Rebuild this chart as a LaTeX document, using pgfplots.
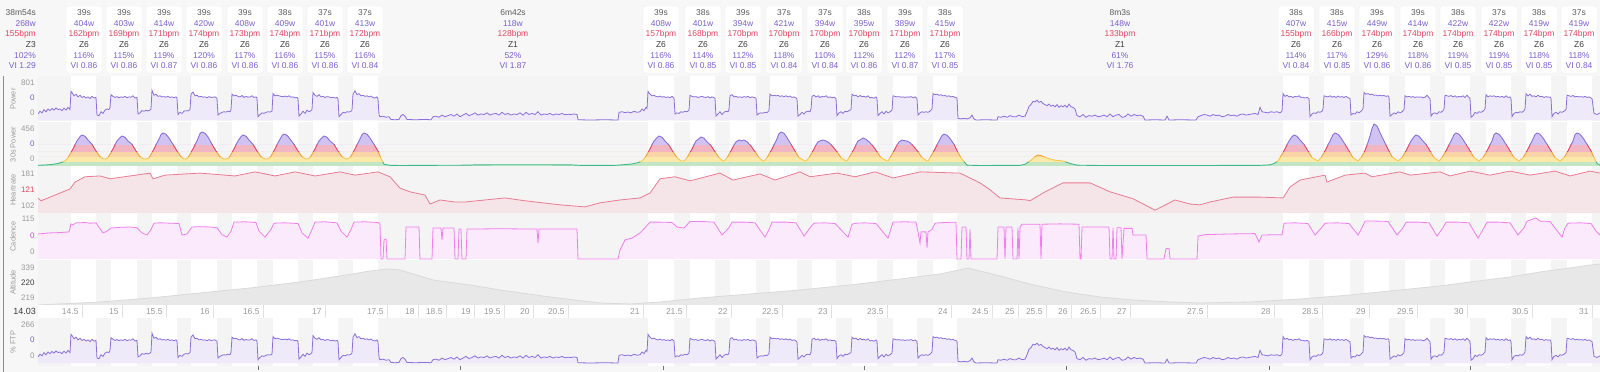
\documentclass[border=0pt]{standalone}
\usepackage{pgfplots}
\pgfplotsset{compat=1.18}
\usepackage{pgfplotstable}
\usepackage{fontspec}
\setmainfont{Liberation Sans}

\definecolor{bgc}{HTML}{F7F7F7}
\definecolor{panelc}{HTML}{F4F4F4}
\definecolor{pwline}{HTML}{8B6FDE}
\definecolor{pwfill}{HTML}{EEEAF9}
\definecolor{hrline}{HTML}{EB7A92}
\definecolor{hrfill}{HTML}{F5E5E9}
\definecolor{cadline}{HTML}{F27CF0}
\definecolor{cadfill}{HTML}{FBEAFB}
\definecolor{altline}{HTML}{DADADA}
\definecolor{altfill}{HTML}{E8E8E8}
\definecolor{zgl}{HTML}{3DB88A}\definecolor{zgf}{HTML}{C2E6C4}
\definecolor{zyl}{HTML}{F4C84A}\definecolor{zyf}{HTML}{FBE9AA}
\definecolor{zol}{HTML}{F5A030}\definecolor{zof}{HTML}{F9D4A6}
\definecolor{zrl}{HTML}{E84060}\definecolor{zrf}{HTML}{F2B6C3}
\definecolor{zpl}{HTML}{8B6FDE}\definecolor{zpf}{HTML}{D0C3F1}
\definecolor{tpurple}{HTML}{7B60D6}
\definecolor{tred}{HTML}{E8455F}
\definecolor{tgray}{HTML}{5C5C5C}
\definecolor{tdark}{HTML}{3C3C3C}
\definecolor{axgray}{HTML}{9A9A9A}
\definecolor{tmag}{HTML}{E040E0}
\definecolor{gridc}{HTML}{E2E2E2}

\newcommand{\hfont}{\fontsize{8.5}{10.7}\selectfont}
\newcommand{\ibox}[6]{%
  \draw[draw=black!7, fill=white, rounded corners=2bp] ({#1bp-18bp},366bp) rectangle ({#1bp+18bp},299bp);
  \node[align=center, font=\hfont, inner sep=0pt] at (#1bp,332.8bp)
   {\textcolor{tgray}{#2}\\\textcolor{tpurple}{#3w}\\\textcolor{tred}{#4bpm}\\\textcolor{tdark}{Z6}\\\textcolor{tpurple}{#5\%}\\\textcolor{tpurple}{VI #6}};}

\pgfplotsset{
  panel/.style={scale only axis, width=1562bp, xmin=38, xmax=1600, anchor=south west,
    axis line style={draw=none}, xtick=\empty, ytick=\empty, major tick length=0pt,
    tick style={draw=none},
    yticklabel style={font=\fontsize{8}{8}\selectfont},
    every axis y label/.style={at={(axis description cs:0,0.5)}, rotate=90, anchor=center,
      yshift=25bp, font=\fontsize{7.5}{7.5}\selectfont, text=axgray}},
}

\pgfplotstableread[row sep=\\]{
x y\\
38 110\\ 40 160\\ 42 130\\ 44 190\\ 46 150\\ 48 200\\ 50 170\\ 52 210\\ 54 180\\ 56 220\\ 58 190\\ 60 200\\ 62 170\\ 64 215\\ 66 180\\ 68 230\\ 70 190\\
71 520\\ 72 500\\ 74 440\\ 76 470\\ 78 420\\ 80 450\\ 82 410\\ 84 430\\ 86 400\\ 88 420\\ 90 390\\ 92 430\\ 94 400\\ 96 410\\
97 90\\ 99 80\\ 101 150\\ 103 120\\ 105 180\\ 107 200\\ 109 190\\ 110 230\\
111 460\\ 113 430\\ 115 410\\ 117 425\\ 119 405\\ 121 420\\ 123 410\\ 125 430\\ 127 405\\ 129 420\\ 131 415\\ 133 440\\ 135 400\\ 137 410\\
138 110\\ 140 130\\ 142 170\\ 144 160\\ 146 175\\ 148 165\\ 150 180\\ 151 200\\
152 540\\ 154 450\\ 156 470\\ 158 430\\ 160 440\\ 162 420\\ 164 425\\ 166 415\\ 168 430\\ 170 410\\ 172 420\\ 174 405\\ 176 420\\ 177 400\\
178 100\\ 180 140\\ 182 120\\ 184 160\\ 186 170\\ 188 165\\ 190 190\\
191 470\\ 193 510\\ 195 440\\ 197 450\\ 199 420\\ 201 430\\ 203 415\\ 205 420\\ 207 405\\ 209 425\\ 211 410\\ 213 415\\ 215 420\\ 217 395\\
218 90\\ 220 120\\ 222 140\\ 224 150\\ 226 145\\ 228 160\\ 230 150\\ 231 190\\
232 470\\ 234 440\\ 236 450\\ 238 430\\ 240 420\\ 242 445\\ 244 410\\ 246 430\\ 248 415\\ 250 420\\ 252 440\\ 254 410\\ 256 420\\ 257 400\\
258 60\\ 260 100\\ 262 130\\ 264 120\\ 266 140\\ 268 150\\ 270 145\\ 272 160\\
273 480\\ 275 440\\ 277 450\\ 279 440\\ 281 430\\ 283 425\\ 285 435\\ 287 420\\ 289 440\\ 291 415\\ 293 420\\ 295 405\\ 297 410\\ 298 390\\
299 70\\ 301 110\\ 303 160\\ 305 120\\ 307 180\\ 309 150\\ 311 170\\ 312 190\\
313 500\\ 315 450\\ 317 430\\ 319 460\\ 321 420\\ 323 430\\ 325 410\\ 327 425\\ 329 420\\ 331 405\\ 333 415\\ 335 400\\ 337 410\\ 338 390\\
339 60\\ 341 100\\ 343 140\\ 345 130\\ 347 150\\ 349 145\\ 351 160\\ 352 180\\
353 470\\ 355 530\\ 357 460\\ 359 480\\ 361 440\\ 363 450\\ 365 430\\ 367 440\\ 369 420\\ 371 435\\ 373 410\\ 375 400\\ 377 420\\ 378 380\\
379 100\\ 380 60\\ 383 70\\ 386 50\\ 389 60\\ 391 10\\ 395 5\\ 399 10\\ 401 80\\ 403 100\\ 405 70\\ 407 10\\ 415 5\\ 425 10\\ 431 5\\
433 60\\ 436 70\\ 439 50\\ 442 90\\ 445 60\\ 448 80\\ 451 100\\ 454 70\\ 457 110\\ 460 60\\ 463 90\\ 466 120\\ 469 80\\ 472 100\\ 475 130\\ 478 90\\
481 110\\ 484 100\\ 487 130\\ 490 90\\ 493 110\\ 496 120\\ 499 90\\ 502 140\\ 505 100\\ 508 120\\ 511 90\\ 514 110\\ 517 100\\ 520 130\\ 523 90\\
526 140\\ 529 100\\ 532 120\\ 535 100\\ 538 150\\ 541 90\\ 544 110\\ 547 100\\ 550 120\\ 553 90\\ 556 110\\ 559 100\\ 562 120\\ 565 95\\ 568 105\\
571 100\\ 574 110\\ 577 100\\ 578 5\\ 590 0\\ 605 5\\ 618 0\\ 619 140\\ 622 150\\ 625 135\\ 628 145\\ 631 130\\ 634 160\\ 637 140\\ 640 150\\
642 200\\ 644 170\\ 646 230\\ 647 210\\
648 520\\ 650 470\\ 652 440\\ 654 450\\ 656 430\\ 658 420\\ 660 435\\ 662 415\\ 664 425\\ 666 410\\ 668 420\\ 670 405\\ 672 430\\ 674 400\\
675 110\\ 677 130\\ 679 120\\ 681 150\\ 683 140\\ 685 160\\ 687 150\\ 689 180\\
690 450\\ 692 430\\ 694 420\\ 696 425\\ 698 410\\ 700 420\\ 702 430\\ 704 415\\ 706 410\\ 708 425\\ 710 400\\ 712 420\\ 714 405\\ 715 390\\
716 70\\ 718 110\\ 720 150\\ 722 100\\ 724 140\\ 726 160\\ 728 150\\ 729 190\\
730 440\\ 732 460\\ 734 420\\ 736 430\\ 738 415\\ 740 420\\ 742 410\\ 744 425\\ 746 415\\ 748 430\\ 750 405\\ 752 420\\ 754 410\\ 756 400\\
757 90\\ 759 120\\ 761 130\\ 763 125\\ 765 140\\ 767 135\\ 769 170\\
770 470\\ 772 440\\ 774 450\\ 776 440\\ 778 445\\ 780 430\\ 782 440\\ 784 425\\ 786 440\\ 788 420\\ 790 435\\ 792 410\\ 794 420\\ 796 400\\ 797 380\\
798 70\\ 800 100\\ 802 140\\ 804 110\\ 806 150\\ 808 160\\ 810 150\\ 811 200\\
812 430\\ 814 450\\ 816 420\\ 818 440\\ 820 410\\ 822 430\\ 824 420\\ 826 440\\ 828 410\\ 830 420\\ 832 405\\ 834 415\\ 836 390\\
837 80\\ 839 130\\ 841 150\\ 843 120\\ 845 160\\ 847 150\\ 849 170\\ 851 190\\
852 470\\ 854 440\\ 856 450\\ 858 420\\ 860 445\\ 862 425\\ 864 430\\ 866 415\\ 868 440\\ 870 400\\ 872 410\\ 874 395\\ 876 420\\ 877 390\\
878 80\\ 880 120\\ 882 150\\ 884 110\\ 886 160\\ 888 130\\ 890 150\\ 892 180\\
893 440\\ 895 430\\ 897 420\\ 899 425\\ 901 415\\ 903 420\\ 905 410\\ 907 420\\ 909 415\\ 911 425\\ 913 405\\ 915 420\\ 917 390\\
918 90\\ 920 130\\ 922 150\\ 924 140\\ 926 150\\ 928 140\\ 930 160\\ 932 200\\
933 480\\ 935 460\\ 937 470\\ 939 450\\ 941 460\\ 943 440\\ 945 445\\ 947 430\\ 949 440\\ 951 420\\ 953 430\\ 955 410\\ 957 400\\
958 30\\ 961 20\\ 964 30\\ 967 20\\ 970 40\\ 972 90\\ 974 20\\ 976 0\\ 985 5\\ 997 0\\ 998 60\\ 1001 50\\ 1004 70\\ 1007 50\\ 1010 80\\ 1013 60\\
1016 60\\ 1019 90\\ 1022 60\\ 1025 70\\ 1027 150\\ 1029 250\\ 1031 280\\ 1033 340\\ 1035 330\\ 1037 360\\ 1039 320\\ 1041 340\\ 1043 300\\ 1045 280\\
1047 260\\ 1049 290\\ 1051 250\\ 1053 270\\ 1055 240\\ 1057 280\\ 1059 230\\ 1061 260\\ 1063 240\\ 1065 270\\ 1067 230\\ 1069 290\\ 1071 240\\
1073 230\\ 1075 200\\ 1077 80\\ 1080 60\\ 1083 100\\ 1086 50\\ 1089 80\\ 1092 70\\ 1095 90\\ 1098 60\\ 1101 70\\ 1104 90\\ 1107 60\\ 1110 110\\
1113 60\\ 1116 90\\ 1119 100\\ 1122 50\\ 1125 60\\ 1128 110\\ 1131 70\\ 1134 100\\ 1137 80\\ 1140 90\\ 1143 70\\ 1145 0\\ 1155 5\\ 1165 0\\
1167 70\\ 1169 0\\ 1180 5\\ 1196 0\\ 1198 60\\ 1201 80\\ 1204 100\\ 1207 90\\ 1210 70\\ 1213 100\\ 1216 80\\ 1219 90\\ 1222 60\\ 1225 70\\
1228 100\\ 1231 80\\ 1234 90\\ 1237 70\\ 1240 100\\ 1243 110\\ 1246 90\\ 1249 100\\ 1252 110\\ 1255 120\\ 1258 100\\ 1260 230\\ 1262 150\\
1265 140\\ 1268 130\\ 1271 150\\ 1274 140\\ 1277 150\\ 1280 130\\ 1282 160\\
1283 480\\ 1285 430\\ 1287 450\\ 1289 420\\ 1291 430\\ 1293 410\\ 1295 430\\ 1297 420\\ 1299 440\\ 1301 410\\ 1303 415\\ 1305 400\\ 1307 410\\ 1309 390\\
1310 60\\ 1312 110\\ 1314 130\\ 1316 120\\ 1318 150\\ 1320 140\\ 1322 160\\ 1323 200\\
1324 440\\ 1326 430\\ 1328 420\\ 1330 440\\ 1332 415\\ 1334 430\\ 1336 410\\ 1338 435\\ 1340 415\\ 1342 425\\ 1344 410\\ 1346 430\\ 1348 405\\ 1350 390\\
1351 90\\ 1353 120\\ 1355 110\\ 1357 150\\ 1359 130\\ 1361 160\\ 1363 200\\
1364 500\\ 1366 470\\ 1368 480\\ 1370 460\\ 1372 470\\ 1374 450\\ 1376 455\\ 1378 440\\ 1380 450\\ 1382 440\\ 1384 445\\ 1386 430\\ 1388 440\\ 1389 420\\
1390 70\\ 1392 100\\ 1394 130\\ 1396 110\\ 1398 150\\ 1400 130\\ 1402 150\\ 1404 190\\
1405 440\\ 1407 420\\ 1409 430\\ 1411 415\\ 1413 425\\ 1415 410\\ 1417 420\\ 1419 415\\ 1421 420\\ 1423 405\\ 1425 415\\ 1427 450\\ 1429 405\\ 1430 390\\
1431 70\\ 1433 120\\ 1435 130\\ 1437 110\\ 1439 150\\ 1441 140\\ 1443 170\\ 1444 200\\
1445 450\\ 1447 440\\ 1449 430\\ 1451 445\\ 1453 420\\ 1455 440\\ 1457 415\\ 1459 430\\ 1461 420\\ 1463 440\\ 1465 410\\ 1467 450\\ 1469 410\\ 1470 390\\
1471 50\\ 1473 80\\ 1475 140\\ 1477 120\\ 1479 150\\ 1481 140\\ 1483 160\\ 1485 200\\
1486 460\\ 1488 420\\ 1490 440\\ 1492 430\\ 1494 440\\ 1496 420\\ 1498 430\\ 1500 415\\ 1502 430\\ 1504 410\\ 1506 440\\ 1508 410\\ 1510 420\\ 1511 390\\
1512 60\\ 1514 120\\ 1516 140\\ 1518 130\\ 1520 150\\ 1522 140\\ 1524 170\\ 1525 200\\
1526 480\\ 1528 440\\ 1530 470\\ 1532 430\\ 1534 440\\ 1536 420\\ 1538 450\\ 1540 425\\ 1542 430\\ 1544 410\\ 1546 425\\ 1548 415\\ 1550 420\\ 1551 395\\
1552 60\\ 1554 120\\ 1556 140\\ 1558 110\\ 1560 150\\ 1562 140\\ 1564 160\\ 1566 190\\
1567 450\\ 1569 440\\ 1571 430\\ 1573 445\\ 1575 420\\ 1577 430\\ 1579 420\\ 1581 425\\ 1583 415\\ 1585 430\\ 1587 410\\ 1589 420\\ 1591 400\\ 1592 390\\
1594 120\\ 1597 100\\ 1600 130\\
}\powtab

\pgfplotstableread[row sep=\\]{
x y\\
38 8\\ 45 12\\ 52 18\\ 58 30\\ 62 45\\
65 60\\ 68 100\\ 71 160\\ 74 230\\ 77 300\\ 80 352\\ 82 372\\ 85 357\\ 88 312\\ 92 260\\ 96 180\\ 100 110\\ 104 84\\
105 84\\ 108 100\\ 111 160\\ 114 230\\ 117 300\\ 120 340\\ 122 360\\ 125 345\\ 128 300\\ 132 260\\ 136 180\\ 140 110\\ 144 84\\
146 84\\ 149 100\\ 152 160\\ 155 230\\ 158 300\\ 161 376\\ 163 396\\ 166 381\\ 169 336\\ 173 260\\ 177 180\\ 181 110\\ 184 84\\
185 84\\ 188 100\\ 191 160\\ 194 230\\ 197 300\\ 200 388\\ 202 408\\ 205 393\\ 208 348\\ 212 260\\ 216 180\\ 220 110\\ 224 84\\
226 84\\ 229 100\\ 232 160\\ 235 230\\ 238 300\\ 241 352\\ 243 372\\ 246 357\\ 249 312\\ 253 260\\ 257 180\\ 261 110\\ 265 84\\
267 84\\ 270 100\\ 273 160\\ 276 230\\ 279 300\\ 282 364\\ 284 384\\ 287 369\\ 290 324\\ 294 260\\ 298 180\\ 302 110\\ 306 84\\
307 84\\ 310 100\\ 313 160\\ 316 230\\ 319 300\\ 322 340\\ 324 360\\ 327 345\\ 330 300\\ 334 260\\ 338 180\\ 342 110\\ 346 84\\
347 84\\ 350 100\\ 353 160\\ 356 230\\ 359 300\\ 362 376\\ 364 396\\ 367 381\\ 370 336\\ 374 260\\ 378 180\\ 381 90\\ 384 20\\ 390 8\\
400 6\\ 430 8\\ 470 10\\ 475 14\\ 520 15\\ 570 14\\ 580 8\\ 615 8\\ 622 14\\ 632 24\\ 638 40\\
642 60\\ 645 100\\ 648 160\\ 651 230\\ 654 300\\ 657 340\\ 659 360\\ 662 345\\ 665 300\\ 669 250\\ 673 170\\ 677 100\\ 681 60\\
684 60\\ 687 100\\ 690 160\\ 693 230\\ 696 300\\ 699 328\\ 701 348\\ 704 333\\ 707 290\\ 711 245\\ 715 170\\ 719 100\\ 723 60\\
724 60\\ 727 100\\ 730 160\\ 733 230\\ 736 290\\ 739 312\\ 741 300\\ 744 312\\ 747 290\\ 751 240\\ 755 170\\ 759 100\\ 763 60\\
764 60\\ 767 100\\ 770 160\\ 773 230\\ 776 300\\ 779 388\\ 781 408\\ 784 393\\ 787 340\\ 791 260\\ 795 180\\ 799 100\\ 805 60\\
806 60\\ 809 100\\ 812 160\\ 815 230\\ 818 290\\ 821 305\\ 823 312\\ 826 300\\ 829 280\\ 833 230\\ 837 170\\ 841 100\\ 846 60\\
847 60\\ 849 100\\ 852 160\\ 855 230\\ 858 300\\ 861 320\\ 863 336\\ 866 320\\ 869 290\\ 873 240\\ 877 170\\ 881 100\\ 887 60\\
888 60\\ 890 100\\ 893 160\\ 896 230\\ 899 290\\ 902 312\\ 904 305\\ 907 300\\ 910 280\\ 914 230\\ 918 170\\ 922 100\\ 927 60\\
928 60\\ 930 100\\ 933 160\\ 936 230\\ 939 300\\ 942 364\\ 944 384\\ 947 369\\ 950 330\\ 954 260\\ 958 160\\ 962 80\\ 967 10\\
980 6\\ 1020 8\\ 1025 20\\ 1030 60\\ 1035 110\\ 1038 132\\ 1042 120\\ 1048 90\\ 1055 70\\ 1063 60\\ 1070 30\\ 1077 10\\ 1100 6\\ 1200 6\\
1260 8\\ 1270 14\\ 1274 30\\ 1278 60\\
1280 100\\ 1283 160\\ 1286 230\\ 1289 300\\ 1292 352\\ 1294 372\\ 1297 357\\ 1300 312\\ 1304 260\\ 1308 180\\ 1312 100\\ 1318 60\\
1321 100\\ 1324 160\\ 1327 230\\ 1330 300\\ 1333 376\\ 1335 396\\ 1338 381\\ 1341 336\\ 1345 260\\ 1349 180\\ 1353 100\\ 1358 60\\
1361 100\\ 1364 160\\ 1367 250\\ 1370 360\\ 1372 450\\ 1374 504\\ 1377 480\\ 1380 400\\ 1384 300\\ 1388 200\\ 1392 110\\ 1398 60\\
1402 100\\ 1405 160\\ 1408 230\\ 1411 300\\ 1414 352\\ 1416 372\\ 1419 357\\ 1422 312\\ 1426 260\\ 1430 180\\ 1434 100\\ 1439 60\\
1442 100\\ 1445 160\\ 1448 230\\ 1451 300\\ 1454 376\\ 1456 396\\ 1459 381\\ 1462 336\\ 1466 260\\ 1470 180\\ 1474 100\\ 1479 60\\
1483 100\\ 1486 160\\ 1489 230\\ 1492 300\\ 1494 376\\ 1496 396\\ 1499 381\\ 1502 336\\ 1506 260\\ 1510 180\\ 1514 100\\ 1519 60\\
1523 100\\ 1526 160\\ 1529 230\\ 1532 300\\ 1535 376\\ 1537 396\\ 1540 381\\ 1543 336\\ 1547 260\\ 1551 180\\ 1555 100\\ 1560 60\\
1564 100\\ 1567 160\\ 1570 230\\ 1573 300\\ 1575 376\\ 1577 396\\ 1580 381\\ 1583 336\\ 1587 260\\ 1591 180\\ 1594 100\\ 1597 30\\ 1600 10\\
}\thirtytab

\pgfplotstableread[row sep=\\]{
x y\\
38 122\\ 41 115\\ 50 124\\ 60 134\\ 70 144\\ 75 161\\ 85 174\\ 100 176\\ 110 169\\ 130 176\\ 150 183\\ 153 169\\ 165 178\\ 200 183\\
235 176\\ 255 186\\ 275 176\\ 295 186\\ 315 176\\ 340 186\\ 355 178\\ 378 186\\ 390 174\\ 400 146\\ 410 137\\ 425 129\\ 430 107\\
440 117\\ 455 112\\ 465 112\\ 505 122\\ 525 115\\ 560 105\\ 585 100\\ 600 110\\ 620 117\\ 640 122\\ 650 134\\ 660 169\\ 675 174\\
690 164\\ 720 183\\ 733 166\\ 760 181\\ 775 166\\ 800 186\\ 810 174\\ 837 183\\ 855 174\\ 875 186\\ 893 171\\ 920 186\\ 960 183\\
980 159\\ 990 142\\ 1000 122\\ 1027 117\\ 1030 115\\ 1045 137\\ 1063 159\\ 1090 159\\ 1110 137\\ 1133 120\\ 1155 92\\ 1175 117\\
1190 107\\ 1200 105\\ 1210 112\\ 1233 124\\ 1260 124\\ 1283 122\\ 1290 149\\ 1300 166\\ 1325 178\\ 1327 161\\ 1345 178\\ 1365 183\\
1372 174\\ 1400 186\\ 1410 178\\ 1440 186\\ 1450 176\\ 1470 188\\ 1490 178\\ 1510 188\\ 1530 178\\ 1555 188\\ 1570 176\\ 1590 188\\ 1600 183\\
}\hrtab

\pgfplotstableread[row sep=\\]{
x y\\
38 72\\ 50 75\\ 60 76\\ 69 78\\ 71 101\\ 73 98\\ 76 104\\ 80 104\\ 85 105\\ 90 103\\ 96 104\\ 98 95\\ 103 75\\ 107 80\\ 111 89\\
120 91\\ 130 92\\ 137 90\\ 142 75\\ 147 69\\ 151 85\\ 154 103\\ 160 104\\ 170 103\\ 179 102\\ 182 69\\ 187 72\\ 192 92\\ 200 93\\
210 92\\ 217 90\\ 222 70\\ 227 63\\ 231 80\\ 234 106\\ 245 107\\ 256 105\\ 259 80\\ 265 63\\ 271 85\\ 274 103\\ 285 104\\ 298 102\\
302 75\\ 308 60\\ 312 85\\ 315 106\\ 325 107\\ 337 104\\ 341 80\\ 347 63\\ 351 85\\ 354 106\\ 365 107\\ 378 105\\ 380 100\\ 381 0\\
383 0\\ 384 55\\ 386 58\\ 387 0\\ 405 0\\ 406 92\\ 419 92\\ 420 0\\ 432 0\\ 433 89\\ 441 89\\ 442 55\\ 443 89\\ 454 89\\ 455 0\\
458 0\\ 459 86\\ 461 86\\ 462 0\\ 466 0\\ 467 86\\ 500 87\\ 537 86\\ 538 46\\ 539 86\\ 577 86\\ 578 0\\ 618 0\\ 620 26\\ 625 55\\
632 60\\ 640 75\\ 645 90\\ 650 106\\ 660 106\\ 672 105\\ 677 92\\ 684 89\\ 690 108\\ 700 108\\ 714 106\\ 722 69\\ 729 90\\ 732 106\\
745 106\\ 755 104\\ 765 63\\ 769 85\\ 772 106\\ 785 106\\ 796 104\\ 804 66\\ 810 90\\ 814 103\\ 825 104\\ 835 102\\ 848 63\\ 852 100\\
856 103\\ 865 104\\ 876 102\\ 888 60\\ 893 106\\ 905 107\\ 916 106\\ 918 78\\ 920 46\\ 921 78\\ 926 78\\ 927 32\\ 928 78\\ 932 85\\
935 103\\ 945 105\\ 956 106\\ 957 0\\ 961 0\\ 962 92\\ 966 92\\ 967 0\\ 969 0\\ 970 86\\ 971 0\\ 997 0\\ 998 92\\ 1004 92\\ 1005 0\\
1006 92\\ 1012 92\\ 1013 0\\ 1017 0\\ 1018 90\\ 1019 0\\ 1020 92\\ 1022 100\\ 1040 100\\ 1041 0\\ 1042 100\\ 1060 101\\ 1079 100\\
1080 0\\ 1081 0\\ 1082 92\\ 1109 92\\ 1110 0\\ 1112 0\\ 1113 90\\ 1114 0\\ 1116 0\\ 1117 90\\ 1121 90\\ 1122 0\\ 1124 88\\ 1132 88\\
1133 69\\ 1146 69\\ 1147 0\\ 1164 0\\ 1166 30\\ 1169 30\\ 1170 0\\ 1197 0\\ 1198 66\\ 1205 70\\ 1230 72\\ 1255 73\\ 1259 49\\ 1262 69\\
1282 70\\ 1284 103\\ 1295 104\\ 1308 102\\ 1315 69\\ 1322 92\\ 1325 103\\ 1337 104\\ 1349 102\\ 1358 69\\ 1362 90\\ 1365 109\\
1376 109\\ 1388 108\\ 1397 69\\ 1403 90\\ 1406 106\\ 1418 106\\ 1429 104\\ 1437 66\\ 1443 90\\ 1446 106\\ 1458 106\\ 1469 104\\
1478 60\\ 1484 90\\ 1487 106\\ 1498 106\\ 1510 104\\ 1518 69\\ 1524 90\\ 1527 109\\ 1536 118\\ 1540 109\\ 1550 108\\ 1562 63\\
1565 90\\ 1568 103\\ 1580 104\\ 1591 102\\ 1596 80\\ 1600 69\\
}\cadtab

\pgfplotstableread[row sep=\\]{
x y\\
38 191\\ 100 203\\ 150 219\\ 200 239\\ 250 259\\ 300 283\\ 340 307\\ 370 327\\ 388 335\\ 400 331\\ 433 291\\ 470 271\\ 500 251\\
550 223\\ 600 199\\ 630 195\\ 660 203\\ 700 219\\ 750 235\\ 800 251\\ 850 271\\ 900 295\\ 940 315\\ 968 339\\ 1000 307\\ 1030 275\\
1066 243\\ 1100 223\\ 1133 211\\ 1170 203\\ 1200 199\\ 1250 203\\ 1300 215\\ 1350 231\\ 1400 251\\ 1440 267\\ 1470 283\\ 1510 303\\
1540 323\\ 1570 339\\ 1590 351\\ 1600 355\\
}\alttab

\begin{document}
\begin{tikzpicture}
\path[use as bounding box] (0,0) rectangle (1600bp,372bp);
\fill[bgc] (0,0) rectangle (1600bp,372bp);
\fill[panelc] (38bp,6bp) rectangle (1600bp,296bp);

% interval bands
\begin{axis}[panel, at={(38bp,6bp)}, height=290bp, ymin=0, ymax=1]
\addplot[ybar interval, fill=white, draw=none] coordinates {
(71,1)(96,0)(111,1)(137,0)(152,1)(177,0)(191,1)(217,0)(232,1)(257,0)(273,1)(298,0)(313,1)(338,0)(353,1)(378,0)
(648,1)(674,0)(690,1)(715,0)(730,1)(756,0)(770,1)(797,0)(812,1)(836,0)(852,1)(877,0)(893,1)(917,0)(933,1)(957,0)
(1283,1)(1309,0)(1324,1)(1350,0)(1364,1)(1389,0)(1405,1)(1430,0)(1445,1)(1470,0)(1486,1)(1511,0)(1526,1)(1551,0)(1567,1)(1592,0)(1600,0)};
\end{axis}

\fill[white] (38bp,54bp) rectangle (1600bp,67bp);
\foreach \yy in {250,159,112} {\draw[white, line width=1bp] (38bp,\yy bp) -- (1600bp,\yy bp);}

% Power
\begin{axis}[panel, at={(38bp,250bp)}, height=46bp, ymin=-36, ymax=800,
  ytick={127.5,400,672.7}, yticklabels={{\textcolor{axgray}{0}},{\textcolor{tpurple}{0}},{\textcolor{axgray}{801}}},
  ylabel={Power}]
\addplot[draw=none, fill=pwfill] table {\powtab} \closedcycle;
\addplot[pwline, line width=0.8bp] table {\powtab};
\end{axis}

% 30s power frame
\begin{axis}[panel, at={(38bp,205bp)}, height=45bp, ymin=-12, ymax=528,
  ytick={84,264,444}, yticklabels={{\textcolor{axgray}{0}},{\textcolor{tpurple}{0}},{\textcolor{axgray}{456}}},
  ylabel={30s Power}]
\addplot[draw=none] coordinates {(38,0)};
\end{axis}
\begin{axis}[panel, at={(38bp,205bp)}, height=5bp, ymin=-12, ymax=48]
\addplot[draw=none, fill=zgf] table {\thirtytab} \closedcycle;
\addplot[zgl, line width=0.9bp] table {\thirtytab};
\end{axis}
\begin{axis}[panel, at={(38bp,210bp)}, height=5bp, ymin=48, ymax=108]
\addplot[draw=none, fill=zyf] table {\thirtytab} \closedcycle;
\addplot[zyl, line width=0.9bp] table {\thirtytab};
\end{axis}
\begin{axis}[panel, at={(38bp,215bp)}, height=5bp, ymin=108, ymax=168]
\addplot[draw=none, fill=zof] table {\thirtytab} \closedcycle;
\addplot[zol, line width=0.9bp] table {\thirtytab};
\end{axis}
\begin{axis}[panel, at={(38bp,220bp)}, height=7bp, ymin=168, ymax=252]
\addplot[draw=none, fill=zrf] table {\thirtytab} \closedcycle;
\addplot[zrl, line width=0.9bp] table {\thirtytab};
\end{axis}
\begin{axis}[panel, at={(38bp,227bp)}, height=23bp, ymin=252, ymax=528]
\addplot[draw=none, fill=zpf] table {\thirtytab} \closedcycle;
\addplot[zpl, line width=0.9bp] table {\thirtytab};
\end{axis}

% Heartrate
\begin{axis}[panel, at={(38bp,159bp)}, height=46bp, ymin=85, ymax=198,
  ytick={102.2,141.5,180.8}, yticklabels={{\textcolor{axgray}{102}},{\textcolor{tred}{121}},{\textcolor{axgray}{181}}},
  ylabel={Heartrate}]
\addplot[draw=none, fill=hrfill] table {\hrtab} \closedcycle;
\addplot[hrline, line width=0.8bp] table {\hrtab};
\end{axis}

% Cadence
\begin{axis}[panel, at={(38bp,112bp)}, height=47bp, ymin=-2.875, ymax=132.25,
  ytick={20,66,115}, yticklabels={{\textcolor{axgray}{0}},{\textcolor{tmag}{0}},{\textcolor{axgray}{115}}},
  ylabel={Cadence}]
\addplot[draw=none, fill=cadfill] table {\cadtab} \closedcycle;
\addplot[cadline, line width=0.8bp] table {\cadtab};
\end{axis}

% Altitude
\begin{axis}[panel, at={(38bp,67bp)}, height=45bp, ymin=191, ymax=371,
  ytick={219,279,339}, yticklabels={{\textcolor{axgray}{219}},{\textcolor{tdark}{220}},{\textcolor{axgray}{339}}},
  ylabel={Altitude}]
\addplot[draw=none, fill=altfill] table {\alttab} \closedcycle;
\addplot[altline, line width=0.8bp] table {\alttab};
\end{axis}

% distance tick row
\begin{axis}[panel, at={(38bp,54bp)}, height=13bp, ymin=0, ymax=1,
  xtick={82,122,166,213,263,325,387,418,446,474,504,533,568,643,686,731,782,831,887,951,992,1018,1046,1071,1100,1130,1207,1274,1322,1369,1417,1467,1532,1592},
  xticklabels={14.5,15,15.5,16,16.5,17,17.5,18,18.5,19,19.5,20,20.5,21,21.5,22,22.5,23,23.5,24,24.5,25,25.5,26,26.5,27,27.5,28,28.5,29,29.5,30,30.5,31},
  xticklabel style={anchor=east, yshift=6.5bp, font=\fontsize{8.5}{8.5}\selectfont, text=axgray},
  xmajorgrids, grid style={draw=gridc, line width=0.8bp}]
\addplot[draw=none] coordinates {(38,0)};
\end{axis}
\node[anchor=east, font=\fontsize{9}{9}\selectfont, text=tdark, inner sep=0pt] at (36bp,60.5bp) {14.03};

% % FTP
\begin{axis}[panel, at={(38bp,6bp)}, height=48bp, ymin=-54.5, ymax=817.7,
  ytick={127,418,690}, yticklabels={{\textcolor{axgray}{0}},{\textcolor{tpurple}{0}},{\textcolor{axgray}{266}}},
  ylabel={\% FTP}]
\addplot[draw=none, fill=pwfill] table {\powtab} \closedcycle;
\addplot[pwline, line width=0.8bp] table {\powtab};
\end{axis}

\foreach \tx in {258,460,663,864,1066,1269,1470} {\draw[black!55, line width=0.8bp] (\tx bp,6bp) -- (\tx bp,2bp);}
\draw[black!45, line width=0.9bp] (3.5bp,0bp) -- (3.5bp,296bp);

% header
\node[align=right, anchor=east, font=\hfont, inner sep=0pt] at (36bp,332.8bp)
 {\textcolor{tgray}{38m54s}\\\textcolor{tpurple}{268w}\\\textcolor{tred}{155bpm}\\\textcolor{tdark}{Z3}\\\textcolor{tpurple}{102\%}\\\textcolor{tpurple}{VI 1.29}};
\node[align=center, font=\hfont, inner sep=0pt] at (513bp,332.8bp)
 {\textcolor{tgray}{6m42s}\\\textcolor{tpurple}{118w}\\\textcolor{tred}{128bpm}\\\textcolor{tdark}{Z1}\\\textcolor{tpurple}{52\%}\\\textcolor{tpurple}{VI 1.87}};
\node[align=center, font=\hfont, inner sep=0pt] at (1120bp,332.8bp)
 {\textcolor{tgray}{8m3s}\\\textcolor{tpurple}{148w}\\\textcolor{tred}{133bpm}\\\textcolor{tdark}{Z1}\\\textcolor{tpurple}{61\%}\\\textcolor{tpurple}{VI 1.76}};

\ibox{84}{39s}{404}{162}{116}{0.86}
\ibox{124}{39s}{403}{169}{115}{0.86}
\ibox{164}{39s}{414}{171}{119}{0.87}
\ibox{204}{39s}{420}{174}{120}{0.86}
\ibox{245}{39s}{408}{173}{117}{0.86}
\ibox{285}{38s}{409}{174}{116}{0.86}
\ibox{325}{37s}{401}{171}{115}{0.86}
\ibox{365}{37s}{413}{172}{116}{0.84}
\ibox{661}{39s}{408}{157}{116}{0.86}
\ibox{703}{38s}{401}{168}{114}{0.85}
\ibox{743}{39s}{394}{170}{112}{0.85}
\ibox{784}{37s}{421}{170}{118}{0.84}
\ibox{825}{37s}{394}{170}{110}{0.84}
\ibox{864}{38s}{395}{170}{112}{0.86}
\ibox{905}{39s}{389}{171}{112}{0.87}
\ibox{945}{38s}{415}{171}{117}{0.85}
\ibox{1296}{38s}{407}{155}{114}{0.84}
\ibox{1337}{38s}{415}{166}{117}{0.85}
\ibox{1377}{39s}{449}{174}{129}{0.86}
\ibox{1418}{39s}{414}{174}{118}{0.86}
\ibox{1458}{38s}{422}{174}{119}{0.85}
\ibox{1499}{37s}{422}{174}{119}{0.85}
\ibox{1539}{38s}{419}{174}{118}{0.85}
\ibox{1579}{37s}{419}{174}{118}{0.84}
\end{tikzpicture}
\end{document}
